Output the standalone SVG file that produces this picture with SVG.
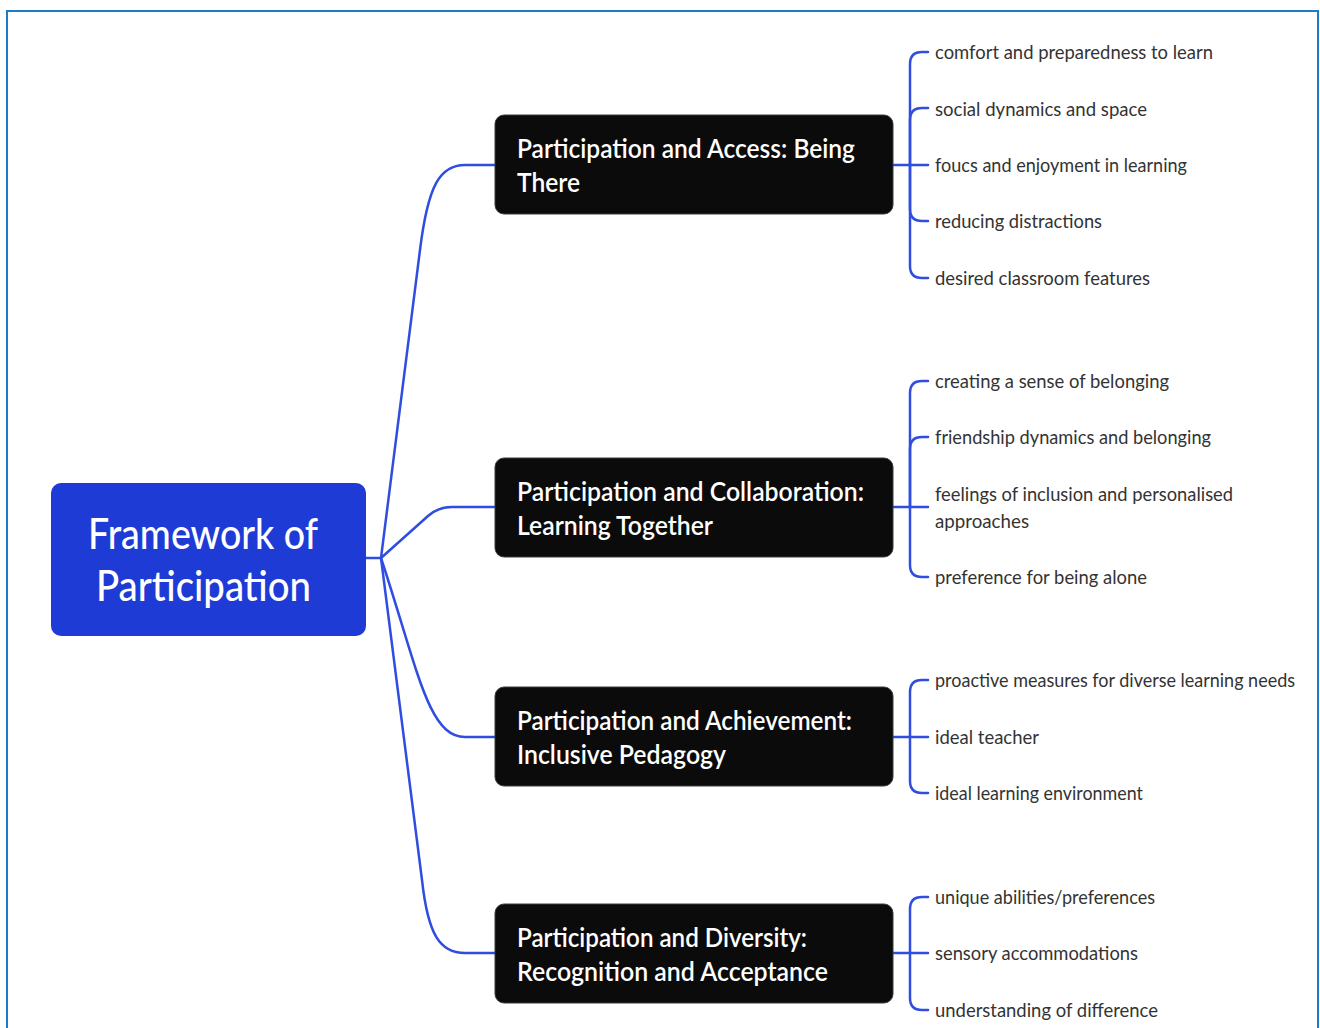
<svg xmlns="http://www.w3.org/2000/svg" width="1320" height="1028" viewBox="0 0 1320 1028">
<style>
.frame{fill:none;stroke:#1a7cc4;stroke-width:2}
.root{fill:#1f3bd6}
.box{fill:#0b0b0b;stroke:#3a3a3a;stroke-width:1}
.rt{font-family:Lato,"Noto Sans",sans-serif;font-size:42px;font-weight:500;fill:#ffffff}
.nt{font-family:Lato,"Noto Sans",sans-serif;font-size:26px;font-weight:600;fill:#ffffff}
.lt{font-family:Lato,"Noto Sans",sans-serif;font-size:20px;fill:#333333}
.c{fill:none;stroke:#2f4de0;stroke-width:2.5;stroke-linecap:round;stroke-linejoin:round}
</style>
<rect class="frame" x="7" y="11" width="1311" height="1030"/>
<g id="connectors">
<path class="c" d="M366,558 H381"/>
<path class="c" d="M381,558 L420,250 C428,185 440,165 465,165 H495"/>
<path class="c" d="M381,558 L428,516 Q438,507 452,507 H495"/>
<path class="c" d="M381,558 C418,670 428,737 465,737 H495"/>
<path class="c" d="M381,558 L422,880 C428,935 440,953 465,953 H495"/>
<path class="c" d="M893,165 H928"/>
<path class="c" d="M910,165 V64 Q910,52 922,52 H928"/>
<path class="c" d="M910,165 V120 Q910,108 922,108 H928"/>
<path class="c" d="M910,165 V209 Q910,221 922,221 H928"/>
<path class="c" d="M910,165 V266 Q910,278 922,278 H928"/>
<path class="c" d="M893,507 H928"/>
<path class="c" d="M910,507 V393 Q910,381 922,381 H928"/>
<path class="c" d="M910,507 V449 Q910,437 922,437 H928"/>
<path class="c" d="M910,507 V565 Q910,577 922,577 H928"/>
<path class="c" d="M893,737 H928"/>
<path class="c" d="M910,737 V692 Q910,680 922,680 H928"/>
<path class="c" d="M910,737 V781 Q910,793 922,793 H928"/>
<path class="c" d="M893,953 H928"/>
<path class="c" d="M910,953 V909 Q910,897 922,897 H928"/>
<path class="c" d="M910,953 V998 Q910,1010 922,1010 H928"/>
</g>
<g id="root">
<rect class="root" x="51" y="483" width="315" height="153" rx="10"/>
<text class="rt" x="88" y="549" textLength="230" lengthAdjust="spacingAndGlyphs">Framework of</text>
<text class="rt" x="96" y="601" textLength="215" lengthAdjust="spacingAndGlyphs">Participation</text>
</g>
<g id="node-access">
<rect class="box" x="495" y="115" width="398" height="99" rx="9"/>
<text class="nt" x="517" y="158" textLength="338" lengthAdjust="spacingAndGlyphs">Participation and Access: Being</text>
<text class="nt" x="517" y="192" textLength="63" lengthAdjust="spacingAndGlyphs">There</text>
</g>
<g id="node-collab">
<rect class="box" x="495" y="458" width="398" height="99" rx="9"/>
<text class="nt" x="517" y="501" textLength="347" lengthAdjust="spacingAndGlyphs">Participation and Collaboration:</text>
<text class="nt" x="517" y="535" textLength="196" lengthAdjust="spacingAndGlyphs">Learning Together</text>
</g>
<g id="node-achieve">
<rect class="box" x="495" y="687" width="398" height="99" rx="9"/>
<text class="nt" x="517" y="730" textLength="335" lengthAdjust="spacingAndGlyphs">Participation and Achievement:</text>
<text class="nt" x="517" y="764" textLength="209" lengthAdjust="spacingAndGlyphs">Inclusive Pedagogy</text>
</g>
<g id="node-diversity">
<rect class="box" x="495" y="904" width="398" height="99" rx="9"/>
<text class="nt" x="517" y="947" textLength="290" lengthAdjust="spacingAndGlyphs">Participation and Diversity:</text>
<text class="nt" x="517" y="981" textLength="311" lengthAdjust="spacingAndGlyphs">Recognition and Acceptance</text>
</g>
<g id="leaves-access">
<text class="lt" x="935" y="59" textLength="278" lengthAdjust="spacingAndGlyphs">comfort and preparedness to learn</text>
<text class="lt" x="935" y="116" textLength="212" lengthAdjust="spacingAndGlyphs">social dynamics and space</text>
<text class="lt" x="935" y="172" textLength="252" lengthAdjust="spacingAndGlyphs">foucs and enjoyment in learning</text>
<text class="lt" x="935" y="228" textLength="167" lengthAdjust="spacingAndGlyphs">reducing distractions</text>
<text class="lt" x="935" y="285" textLength="215" lengthAdjust="spacingAndGlyphs">desired classroom features</text>
</g>
<g id="leaves-collab">
<text class="lt" x="935" y="388" textLength="234" lengthAdjust="spacingAndGlyphs">creating a sense of belonging</text>
<text class="lt" x="935" y="444" textLength="276" lengthAdjust="spacingAndGlyphs">friendship dynamics and belonging</text>
<text class="lt" x="935" y="501" textLength="298" lengthAdjust="spacingAndGlyphs">feelings of inclusion and personalised</text>
<text class="lt" x="935" y="528" textLength="94" lengthAdjust="spacingAndGlyphs">approaches</text>
<text class="lt" x="935" y="584" textLength="212" lengthAdjust="spacingAndGlyphs">preference for being alone</text>
</g>
<g id="leaves-achieve">
<text class="lt" x="935" y="687" textLength="360" lengthAdjust="spacingAndGlyphs">proactive measures for diverse learning needs</text>
<text class="lt" x="935" y="744" textLength="104" lengthAdjust="spacingAndGlyphs">ideal teacher</text>
<text class="lt" x="935" y="800" textLength="208" lengthAdjust="spacingAndGlyphs">ideal learning environment</text>
</g>
<g id="leaves-diversity">
<text class="lt" x="935" y="904" textLength="220" lengthAdjust="spacingAndGlyphs">unique abilities/preferences</text>
<text class="lt" x="935" y="960" textLength="203" lengthAdjust="spacingAndGlyphs">sensory accommodations</text>
<text class="lt" x="935" y="1017" textLength="223" lengthAdjust="spacingAndGlyphs">understanding of difference</text>
</g>
</svg>
